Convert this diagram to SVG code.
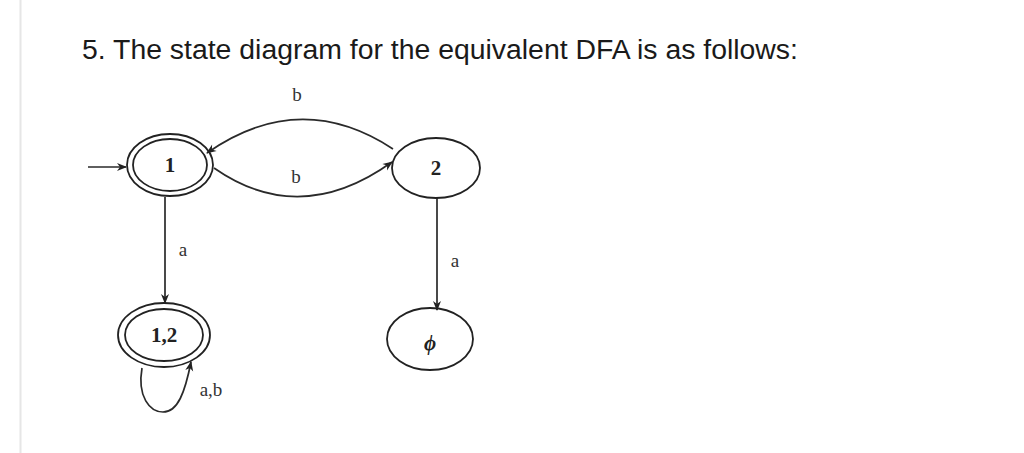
<svg xmlns="http://www.w3.org/2000/svg" width="1024" height="453" viewBox="0 0 1024 453">
<style>
.title{font-family:"Liberation Sans",Arial,sans-serif;font-size:28.4px;fill:#1a1a1a}
.st{fill:none;stroke:#222;stroke-width:1.8}
.lbl{font-family:"Liberation Serif","Times New Roman",serif;font-size:19px;fill:#333;text-anchor:middle}
.nl{font-family:"Liberation Serif","Times New Roman",serif;font-size:21px;font-weight:bold;fill:#222;text-anchor:middle}
.edge{fill:none;stroke:#2a2a2a;stroke-width:1.7;marker-end:url(#ah)}
</style>
<defs>
<marker id="ah" viewBox="0 0 10 10" refX="9" refY="5" markerWidth="11" markerHeight="10" orient="auto" markerUnits="userSpaceOnUse">
<path d="M0,1 L10,5 L0,9 L3,5 Z" fill="#222"/>
</marker>
</defs>
<rect width="1024" height="453" fill="#fff"/>
<line x1="20.5" y1="0" x2="20.5" y2="453" stroke="#e6e6e6" stroke-width="2"/>
<text class="title" x="82" y="59">5. The state diagram for the equivalent DFA is as follows:</text>
<g id="connectors">
<line class="edge" x1="88" y1="167" x2="126" y2="167"/>
<path class="edge" d="M393,149 Q300,88 207,153"/>
<text class="lbl" x="297" y="101">b</text>
<path class="edge" d="M214,168 Q300,228 392,162"/>
<text class="lbl" x="296" y="183">b</text>
<line class="edge" x1="165" y1="197" x2="165" y2="303"/>
<text class="lbl" x="183" y="256">a</text>
<line class="edge" x1="437" y1="198" x2="437" y2="310"/>
<text class="lbl" x="455" y="267">a</text>
<path class="edge" d="M142,368 C137,397 150,412 163,412 C178,412 185,392 191,362"/>
<text class="lbl" x="211" y="396">a,b</text>
</g>
<g id="node-1">
<ellipse class="st" cx="170" cy="165" rx="43" ry="31"/>
<ellipse class="st" cx="170" cy="165" rx="37" ry="26"/>
<text class="nl" x="170" y="172">1</text>
</g>
<g id="node-2">
<ellipse class="st" cx="436" cy="168" rx="44" ry="30"/>
<text class="nl" x="436" y="175">2</text>
</g>
<g id="node-12">
<ellipse class="st" cx="164" cy="335" rx="46" ry="32"/>
<ellipse class="st" cx="164" cy="335" rx="39" ry="26"/>
<text class="nl" x="164" y="342">1,2</text>
</g>
<g id="node-empty">
<ellipse class="st" cx="430" cy="339" rx="43" ry="31"/>
<text class="nl" x="430" y="350" font-style="italic" font-size="30">ϕ</text>
</g>
</svg>
